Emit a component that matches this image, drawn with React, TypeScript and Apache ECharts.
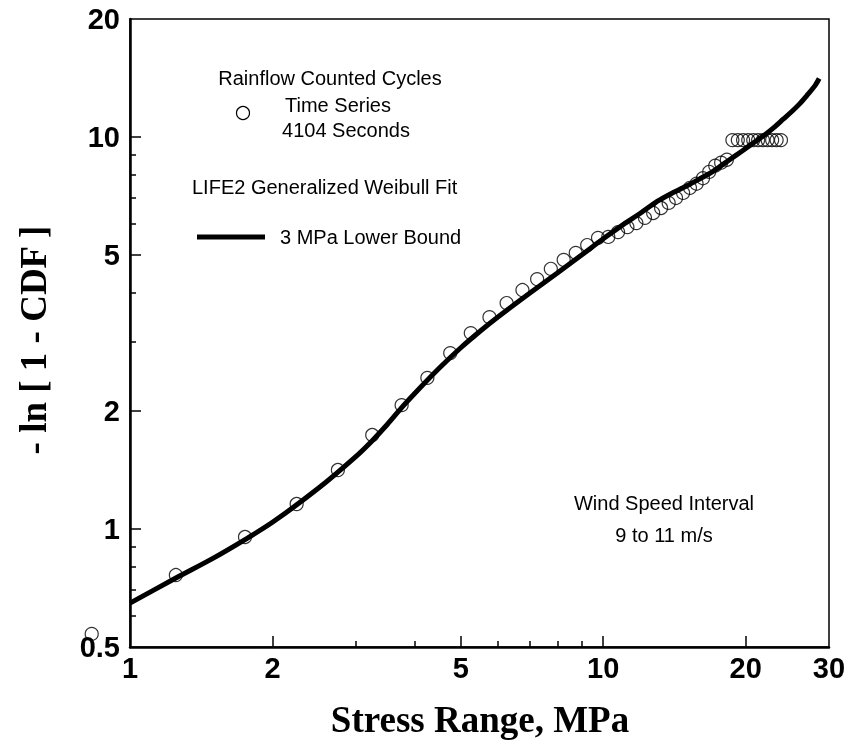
import React, { useEffect, useRef } from "react";
import * as echarts from "echarts";

// Rainflow counted cycles (bin centres, MPa) and -ln(1-CDF)
const cycleStress = [0.83, 1.25, 1.75, 2.25, 2.75, 3.25, 3.75, 4.25, 4.75, 5.25, 5.75, 6.25, 6.75, 7.25, 7.75, 8.25, 8.75, 9.25, 9.75, 10.25, 10.75, 11.25, 11.75, 12.25, 12.75, 13.25, 13.75, 14.25, 14.75, 15.25, 15.75, 16.25, 16.75, 17.25, 17.75, 18.25, 18.75, 19.25, 19.75, 20.25, 20.75, 21.25, 21.75, 22.25, 22.75, 23.25, 23.75];
const cycleLnCdf = [0.54, 0.763, 0.954, 1.158, 1.414, 1.737, 2.07, 2.43, 2.81, 3.16, 3.47, 3.77, 4.07, 4.34, 4.61, 4.86, 5.06, 5.3, 5.53, 5.56, 5.72, 5.89, 6.03, 6.22, 6.4, 6.59, 6.79, 6.99, 7.2, 7.42, 7.6, 7.85, 8.15, 8.45, 8.6, 8.75, 9.82, 9.82, 9.82, 9.82, 9.82, 9.82, 9.82, 9.82, 9.82, 9.82, 9.82];

// LIFE2 generalized Weibull fit, 3 MPa lower bound
const fitStress = [1, 1.25, 1.5, 1.75, 2, 2.5, 3, 3.25, 3.5, 3.75, 4, 4.5, 5, 5.5, 6, 7, 8, 9, 10, 11, 12, 13, 14, 15, 16, 17, 18, 19, 20, 21, 22, 23, 24, 25, 26, 27, 28, 28.6];
const fitLnCdf = [0.647, 0.75, 0.843, 0.94, 1.04, 1.27, 1.53, 1.68, 1.85, 2.04, 2.22, 2.57, 2.9, 3.2, 3.48, 4.0, 4.5, 5.0, 5.5, 5.97, 6.4, 6.85, 7.2, 7.5, 7.82, 8.15, 8.55, 8.95, 9.35, 9.75, 10.15, 10.6, 11.1, 11.6, 12.15, 12.8, 13.5, 14.1];

const xTickLabels = [1, 2, 5, 10, 20, 30];
const xMajorTicks = [2, 5, 10, 20];
const xMinorTicks = [3, 4, 6, 7, 8, 9];
const yTickLabels = [0.5, 1, 2, 5, 10, 20];
const yMajorTicks = [1, 2, 5, 10];
const yMinorTicks = [0.6, 0.7, 0.8, 0.9, 3, 4, 6, 7, 8, 9];

const annoFont = "Liberation Sans, Arial, sans-serif";
const titleFont = `bold 37px "Liberation Serif", "Times New Roman", serif`;

export default function App() {
  const ref = useRef<HTMLDivElement>(null);
  useEffect(() => {
    if (!ref.current) return;
    const chart = echarts.init(ref.current, null, { renderer: "svg" });
    const fmt = (v: number) => String(Math.round(v * 10) / 10);
    const tickLabelStyle = {
      color: "#000",
      fontFamily: annoFont,
      fontWeight: "bold" as const,
      fontSize: 29,
      formatter: fmt,
    };
    chart.setOption({
      animation: false,
      grid: { left: 130, right: 22, top: 19, bottom: 105, show: true, borderColor: "#000", borderWidth: 1.5, backgroundColor: "transparent" },
      xAxis: [
        {
          type: "log", logBase: 10, min: 0.99999, max: 30.0001,
          axisLine: { show: true, lineStyle: { color: "#000", width: 2.5 } },
          axisTick: { show: true, inside: true, length: 11, customValues: xMajorTicks, lineStyle: { color: "#000", width: 1.5 } },
          axisLabel: { ...tickLabelStyle, margin: 6, customValues: xTickLabels },
          splitLine: { show: false },
          minorTick: { show: false },
        },
        {
          type: "log", logBase: 10, min: 0.99999, max: 30.0001, position: "bottom",
          axisLine: { show: false },
          axisTick: { show: true, inside: true, length: 6, customValues: xMinorTicks, lineStyle: { color: "#000", width: 1.5 } },
          axisLabel: { show: false },
          splitLine: { show: false },
        },
      ],
      yAxis: [
        {
          type: "log", logBase: 10, min: 0.49999, max: 20.0001,
          axisLine: { show: true, lineStyle: { color: "#000", width: 2.5 } },
          axisTick: { show: true, inside: true, length: 11, customValues: yMajorTicks, lineStyle: { color: "#000", width: 1.5 } },
          axisLabel: { ...tickLabelStyle, margin: 10, customValues: yTickLabels },
          splitLine: { show: false },
        },
        {
          type: "log", logBase: 10, min: 0.49999, max: 20.0001, position: "left",
          axisLine: { show: false },
          axisTick: { show: true, inside: true, length: 6, customValues: yMinorTicks, lineStyle: { color: "#000", width: 1.5 } },
          axisLabel: { show: false },
          splitLine: { show: false },
        },
      ],
      series: [
        {
          type: "line",
          name: "3 MPa Lower Bound",
          data: fitStress.map((x, i) => [x, fitLnCdf[i]]),
          showSymbol: false,
          smooth: 0.3,
          lineStyle: { color: "#000", width: 5 },
          z: 2,
        },
        {
          type: "scatter",
          name: "Rainflow Counted Cycles",
          data: cycleStress.map((x, i) => [x, cycleLnCdf[i]]),
          symbol: "circle",
          symbolSize: 13,
          clip: false,
          itemStyle: { color: "rgba(0,0,0,0)", borderColor: "#000", borderWidth: 1.2 },
          z: 3,
        },
      ],
      graphic: [
        { type: "text", x: 330, y: 78, style: { text: "Rainflow Counted Cycles", font: `20px ${annoFont}`, fill: "#000", textAlign: "center", textVerticalAlign: "middle" } },
        { type: "text", x: 338, y: 105, style: { text: "Time Series", font: `20px ${annoFont}`, fill: "#000", textAlign: "center", textVerticalAlign: "middle" } },
        { type: "text", x: 346, y: 130, style: { text: "4104 Seconds", font: `20px ${annoFont}`, fill: "#000", textAlign: "center", textVerticalAlign: "middle" } },
        { type: "circle", shape: { cx: 243, cy: 113, r: 6.5 }, style: { fill: "none", stroke: "#000", lineWidth: 1.2 } },
        { type: "text", x: 192, y: 187, style: { text: "LIFE2 Generalized Weibull Fit", font: `20px ${annoFont}`, fill: "#000", textAlign: "left", textVerticalAlign: "middle" } },
        { type: "line", shape: { x1: 197, y1: 237, x2: 265, y2: 237 }, style: { stroke: "#000", lineWidth: 5 } },
        { type: "text", x: 280, y: 237, style: { text: "3 MPa Lower Bound", font: `20px ${annoFont}`, fill: "#000", textAlign: "left", textVerticalAlign: "middle" } },
        { type: "text", x: 664, y: 503, style: { text: "Wind Speed Interval", font: `20px ${annoFont}`, fill: "#000", textAlign: "center", textVerticalAlign: "middle" } },
        { type: "text", x: 664, y: 535, style: { text: "9 to 11 m/s", font: `20px ${annoFont}`, fill: "#000", textAlign: "center", textVerticalAlign: "middle" } },
        { type: "text", x: 480, y: 719, style: { text: "Stress Range, MPa", font: titleFont, fill: "#000", textAlign: "center", textVerticalAlign: "middle" } },
        { type: "text", x: 33, y: 340, rotation: Math.PI / 2, style: { text: "- ln [ 1 - CDF ]", font: titleFont, fill: "#000", textAlign: "center", textVerticalAlign: "middle" } },
      ],
    });
    return () => chart.dispose();
  }, []);
  return <div ref={ref} style={{ position: "fixed", left: 0, top: 0, width: 851, height: 752 }} />;
}
